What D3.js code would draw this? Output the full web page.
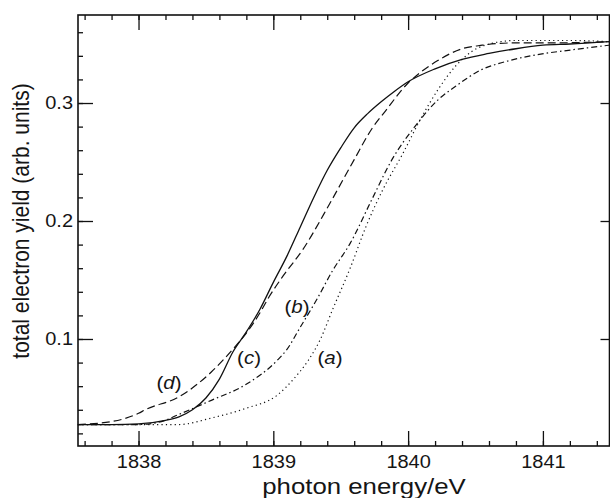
<!DOCTYPE html>
<html>
<head>
<meta charset="utf-8">
<script src="https://cdn.jsdelivr.net/npm/d3@7"></script>
<style>
  body { margin: 0; background: #fff; }
  text { font-family: "Liberation Sans", Arial, sans-serif; fill: #151515; }
</style>
</head>
<body>
<div id="chart-area"></div>
<script>
// curve (a) dotted
var aE = [1837.55, 1838.0, 1838.3, 1838.54, 1838.79, 1839.03, 1839.15, 1839.26, 1839.35, 1839.44, 1839.57, 1839.69, 1839.81, 1839.96, 1840.1, 1840.22, 1840.35, 1840.47, 1840.62, 1840.8, 1841.2, 1841.49];
var aY = [0.0275, 0.0275, 0.0275, 0.033, 0.041, 0.0525, 0.066, 0.082, 0.100, 0.125, 0.160, 0.196, 0.226, 0.257, 0.288, 0.311, 0.331, 0.3435, 0.3505, 0.353, 0.353, 0.352];
// curve (b) dash-dot
var bE = [1837.55, 1838.0, 1838.17, 1838.29, 1838.54, 1838.79, 1839.03, 1839.1, 1839.2, 1839.32, 1839.44, 1839.57, 1839.73, 1839.88, 1840.05, 1840.22, 1840.35, 1840.54, 1840.72, 1840.96, 1841.21, 1841.49];
var bY = [0.0275, 0.0275, 0.030, 0.0356, 0.048, 0.061, 0.082, 0.091, 0.110, 0.133, 0.158, 0.181, 0.218, 0.252, 0.280, 0.3025, 0.314, 0.328, 0.335, 0.341, 0.345, 0.349];
// curve (c) solid
var cE = [1837.55, 1837.8, 1838.0, 1838.2, 1838.3, 1838.4, 1838.5, 1838.6, 1838.7, 1838.8, 1838.9, 1839.0, 1839.1, 1839.2, 1839.3, 1839.4, 1839.5, 1839.6, 1839.7, 1839.8, 1839.9, 1840.0, 1840.2, 1840.4, 1840.6, 1840.8, 1841.0, 1841.2, 1841.49];
var cY = [0.0275, 0.0275, 0.028, 0.031, 0.034, 0.040, 0.050, 0.066, 0.089, 0.106, 0.125, 0.148, 0.170, 0.195, 0.220, 0.243, 0.262, 0.279, 0.291, 0.301, 0.310, 0.318, 0.329, 0.337, 0.342, 0.346, 0.349, 0.350, 0.352];
// curve (d) dashed
var dE = [1837.55, 1837.8, 1838.0, 1838.05, 1838.3, 1838.54, 1838.72, 1838.8, 1838.9, 1838.97, 1839.07, 1839.22, 1839.42, 1839.6, 1839.73, 1839.83, 1840.0, 1840.07, 1840.22, 1840.4, 1840.55, 1840.8, 1841.1, 1841.49];
var dY = [0.0275, 0.030, 0.037, 0.040, 0.051, 0.072, 0.094, 0.105, 0.122, 0.136, 0.153, 0.176, 0.215, 0.252, 0.278, 0.293, 0.317, 0.324, 0.336, 0.346, 0.349, 0.351, 0.351, 0.352];

var labelLetters = ["a", "b", "c", "d"];
var labelE = [1839.42, 1839.176, 1838.82, 1838.226];
var labelY = [0.0788, 0.122, 0.0788, 0.0576];

var xTicks = [1838, 1839, 1840, 1841];
var yTicks = [0.1, 0.2, 0.3];
var xMinor = d3.range(1837.6, 1841.45, 0.2);
var yMinor = d3.range(0.02, 0.371, 0.02);

var margin = { left: 78, top: 15 };
var width = 531.5;
var height = 431;

var tickStretch = 1.08;
var labelStretch = 1.2;

var svg = d3.select("#chart-area")
  .append("svg")
  .attr("width", 610)
  .attr("height", 498);

var g = svg.append("g")
  .attr("transform", "translate(" + margin.left + ", " + margin.top + ")");

var x = d3.scaleLinear()
  .domain([1837.551, 1841.494])
  .range([0, width]);

var y = d3.scaleLinear()
  .domain([0.0093, 0.3746])
  .range([height, 0]);

function styleAxis(sel) {
  sel.select(".domain").remove();
  sel.selectAll(".tick line").attr("stroke", "#111").attr("stroke-width", 1.3);
}

// bottom
var bottomMajor = g.append("g")
  .attr("transform", "translate(0, " + height + ")")
  .call(d3.axisBottom(x).tickValues(xTicks).tickSize(-15).tickPadding(9).tickFormat(d3.format("d")));
styleAxis(bottomMajor);
bottomMajor.selectAll("text")
  .attr("font-size", 18.5)
  .attr("transform", "scale(" + tickStretch + ",1)");

g.append("g")
  .attr("transform", "translate(0, " + height + ")")
  .call(d3.axisBottom(x).tickValues(xMinor).tickSize(-5).tickFormat(""))
  .call(styleAxis);

// top
g.append("g")
  .call(d3.axisTop(x).tickValues(xTicks).tickSize(-15).tickFormat(""))
  .call(styleAxis);
g.append("g")
  .call(d3.axisTop(x).tickValues(xMinor).tickSize(-5).tickFormat(""))
  .call(styleAxis);

// left
var leftMajor = g.append("g")
  .call(d3.axisLeft(y).tickValues(yTicks).tickSize(-15).tickPadding(0).tickFormat(d3.format(".1f")));
styleAxis(leftMajor);
leftMajor.selectAll("text")
  .attr("font-size", 18.5)
  .attr("x", -5 / tickStretch)
  .attr("transform", "scale(" + tickStretch + ",1)");

g.append("g")
  .call(d3.axisLeft(y).tickValues(yMinor).tickSize(-5).tickFormat(""))
  .call(styleAxis);

// right
g.append("g")
  .attr("transform", "translate(" + width + ", 0)")
  .call(d3.axisRight(y).tickValues(yTicks).tickSize(-9).tickFormat(""))
  .call(styleAxis);

// frame
g.append("rect")
  .attr("x", 0)
  .attr("y", 0)
  .attr("width", width)
  .attr("height", height)
  .attr("fill", "none")
  .attr("stroke", "#111")
  .attr("stroke-width", 1.6);

// curves
var series = [
  { e: aE, v: aY, dash: "1.2,3.2", w: 1.2 },
  { e: bE, v: bY, dash: "6,3,1.5,3", w: 1.2 },
  { e: cE, v: cY, dash: null, w: 1.3 },
  { e: dE, v: dY, dash: "8,4", w: 1.2 }
];

var line = d3.line()
  .x(function(d){ return x(d[0]); })
  .y(function(d){ return y(d[1]); })
  .curve(d3.curveMonotoneX);

series.forEach(function(s){
  var pts = s.e.map(function(e, i){ return [e, s.v[i]]; });
  g.append("path")
    .datum(pts)
    .attr("fill", "none")
    .attr("stroke", "#111")
    .attr("stroke-width", s.w)
    .attr("stroke-dasharray", s.dash)
    .attr("d", line);
});

// curve labels
labelLetters.forEach(function(letter, i){
  var t = g.append("text")
    .attr("text-anchor", "middle")
    .attr("font-size", 19)
    .attr("transform", "translate(" + x(labelE[i]) + "," + y(labelY[i]) + ") scale(" + tickStretch + ",1)");
  t.append("tspan").text("(");
  t.append("tspan").attr("font-style", "italic").text(letter);
  t.append("tspan").text(")");
});

// axis titles
svg.append("text")
  .attr("text-anchor", "middle")
  .attr("font-size", 21.5)
  .attr("transform", "translate(364, 494) scale(" + labelStretch + ",1)")
  .text("photon energy/eV");

svg.append("text")
  .attr("text-anchor", "middle")
  .attr("font-size", 21)
  .attr("transform", "translate(29, 221) scale(1.18,1) rotate(-90)")
  .text("total electron yield (arb. units)");
</script>
</body>
</html>
